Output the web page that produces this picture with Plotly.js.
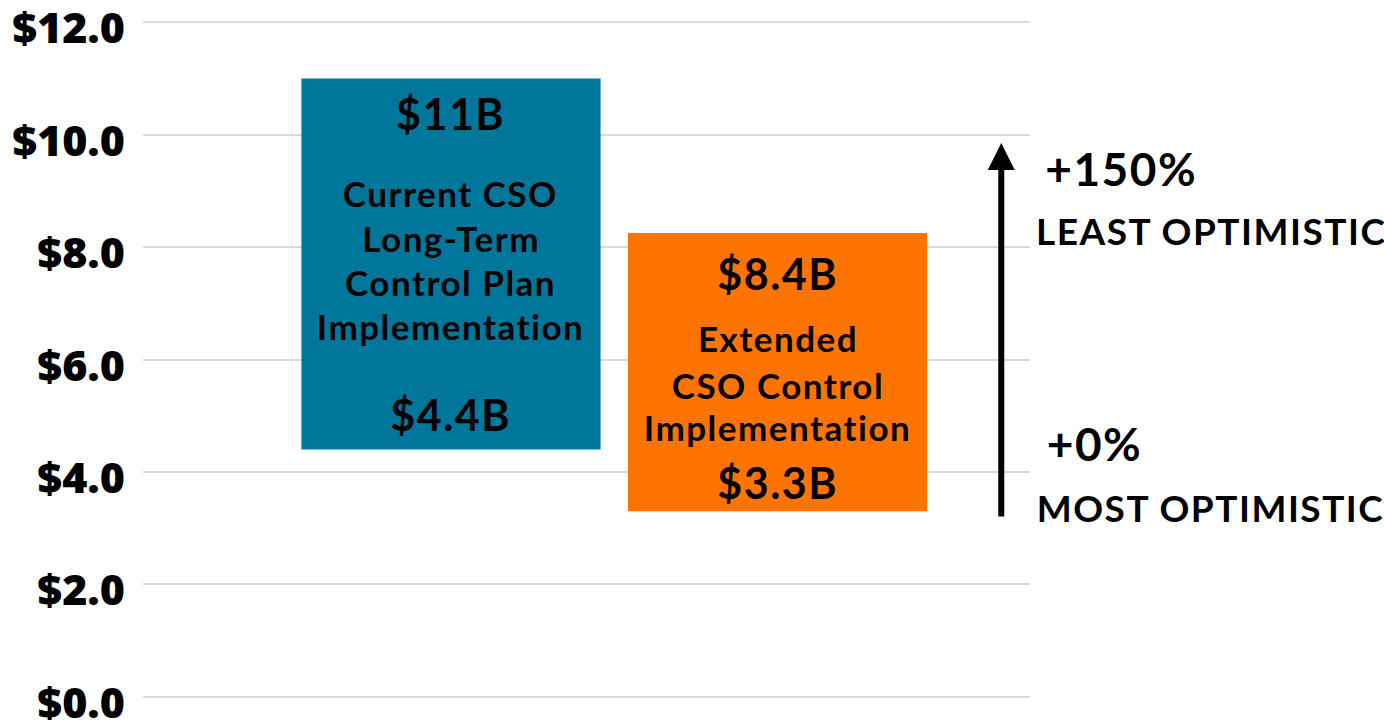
<!DOCTYPE html>
<html>
<head>
<meta charset="utf-8">
<script src="https://cdn.plot.ly/plotly-3.0.1.min.js"></script>
<style>
html,body{margin:0;padding:0;background:#fff;}
#chart{width:1384px;height:720px;}
#chart .annotation-text{letter-spacing:1.5px;}
</style>
</head>
<body>
<div id="chart"></div>
<script>
// Data
const scenarios = ["Current CSO Long-Term Control Plan Implementation", "Extended CSO Control Implementation"];
const xPos = [1, 2];
const lowValues = [4.4, 3.3];
const highValues = [11.0, 8.25];
const highLabels = ["$11B", "$8.4B"];
const lowLabels = ["$4.4B", "$3.3B"];
const descLines = [["Current CSO", "Long-Term", "Control Plan", "Implementation"], ["Extended", "CSO Control", "Implementation"]];
const barColors = ["#00769B", "#FF7400"];
const arrowRange = [3.18, 9.85];
const arrowX = 2.685;
const pctLabels = ["+150%", "+0%"];
const pctCaptions = ["LEAST OPTIMISTIC", "MOST OPTIMISTIC"];
const yTicks = [0, 2, 4, 6, 8, 10, 12];
const yTickText = ["$0.0", "$2.0", "$4.0", "$6.0", "$8.0", "$10.0", "$12.0"];

const bodyFont = "Lato, 'Noto Sans', sans-serif";
const trace = {
  type: "bar",
  x: xPos,
  y: highValues.map((h, i) => h - lowValues[i]),
  base: lowValues,
  width: 0.916,
  marker: {color: barColors, line: {width: 0}},
  hoverinfo: "skip",
  text: scenarios,
  textposition: "none"
};

const annotations = [];
const descShifts = [[71, 26, -18, -62], [34, -13, -55]];
xPos.forEach((x, i) => {
  annotations.push({x: x, y: highValues[i], xref: "x", yref: "y", text: highLabels[i], showarrow: false,
    yanchor: "middle", yshift: i === 0 ? -35 : -40, font: {family: bodyFont, size: 43, color: "#000", weight: 700}});
  annotations.push({x: x, y: lowValues[i], xref: "x", yref: "y", text: lowLabels[i], showarrow: false,
    yanchor: "middle", yshift: i === 0 ? 35 : 29, font: {family: bodyFont, size: 43, color: "#000", weight: 700}});
  const mid = (highValues[i] + lowValues[i]) / 2;
  descLines[i].forEach((line, j) => {
    annotations.push({x: x, y: mid, xref: "x", yref: "y", text: line, showarrow: false,
      yanchor: "middle", yshift: descShifts[i][j],
      font: {family: bodyFont, size: 35, color: "#000", weight: 700}});
  });
});
// Arrow
annotations.push({x: arrowX, y: arrowRange[1], ax: arrowX, ay: arrowRange[0], xref: "x", yref: "y", axref: "x", ayref: "y",
  text: "", showarrow: true, arrowhead: 2, arrowsize: 0.9, arrowwidth: 6, arrowcolor: "#000"});
// Right labels
const pctY = [arrowRange[1], arrowRange[0]];
const pctShift = [-25, 75];
const capShift = [-87, 11];
pctLabels.forEach((t, i) => {
  annotations.push({x: 1, xref: "paper", y: pctY[i], yref: "y", text: t, showarrow: false, xanchor: "left", xshift: 17,
    yanchor: "middle", yshift: pctShift[i], font: {family: bodyFont, size: 46, color: "#000", weight: 700}});
  annotations.push({x: 1, xref: "paper", y: pctY[i], yref: "y", text: pctCaptions[i], showarrow: false, xanchor: "left", xshift: 16,
    yanchor: "middle", yshift: capShift[i], font: {family: bodyFont, size: 37, color: "#000", weight: 700}});
});

const layout = {
  width: 1384, height: 720,
  margin: {l: 143, r: 354, t: 20, b: 21, pad: 0},
  paper_bgcolor: "#fff", plot_bgcolor: "#fff",
  showlegend: false,
  xaxis: {range: [0.057, 2.773], showgrid: false, zeroline: false, showticklabels: false, ticks: "", showline: false, fixedrange: true},
  yaxis: {range: [-0.04, 12.04], tickmode: "array", tickvals: yTicks, ticktext: yTickText, showgrid: true, gridcolor: "#d9d9d9", gridwidth: 2,
    zeroline: false, showline: false, ticks: "", ticklabelstandoff: 17, ticklabelshift: 6, ticklabeloverflow: "allow",
    tickfont: {family: "'Open Sans', sans-serif", size: 43, color: "#000", weight: 800}},
  annotations: annotations
};
Plotly.newPlot("chart", [trace], layout, {displayModeBar: false, staticPlot: true});
</script>
</body>
</html>
